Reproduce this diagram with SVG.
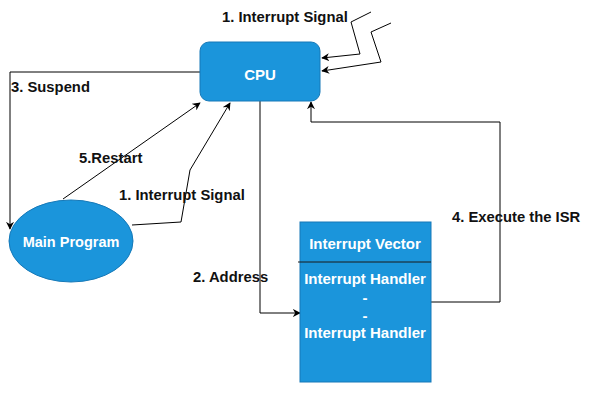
<svg xmlns="http://www.w3.org/2000/svg" width="590" height="409" viewBox="0 0 590 409">
<style>
.node{fill:#1B95DB;stroke:#1679B8;stroke-width:1}
.wt{fill:#fff;font-family:"Liberation Sans",Arial,sans-serif;font-weight:bold;font-size:14px;text-anchor:middle}
.box{font-size:15px}
.lbl{fill:#111;font-family:"Liberation Sans",Arial,sans-serif;font-weight:bold;font-size:14.8px}
.ln{fill:none;stroke:#000;stroke-width:1}
</style>
<defs>
<marker id="ah" viewBox="0 0 10 10" refX="9" refY="5" markerWidth="8" markerHeight="8" markerUnits="userSpaceOnUse" orient="auto">
<path d="M0,0 L10,5 L0,10 L3,5 Z" fill="#000"/>
</marker>
</defs>
<rect width="590" height="409" fill="#fff"/>
<g id="connectors">
<polyline class="ln" points="371,12 351,22 360,54 322,58" marker-end="url(#ah)"/>
<polyline class="ln" points="391,23 371,32 381,62 322,71" marker-end="url(#ah)"/>
<polyline class="ln" points="200,72 10,72 10,229" marker-end="url(#ah)"/>
<polyline class="ln" points="63,199 200,103" marker-end="url(#ah)"/>
<polyline class="ln" points="132,225 181,222 190,170 230,103" marker-end="url(#ah)"/>
<polyline class="ln" points="260,101 260,313 300,313" marker-end="url(#ah)"/>
<polyline class="ln" points="431,302 500,302 500,122 311,122 311,102" marker-end="url(#ah)"/>
</g>
<g id="cpu">
<rect class="node" x="200" y="42" width="120" height="59" rx="9"/>
<text class="wt box" x="260" y="80">CPU</text>
</g>
<g id="main-program">
<ellipse class="node" cx="71" cy="241" rx="62" ry="41"/>
<text class="wt" x="71" y="247" style="font-size:14.5px">Main Program</text>
</g>
<g id="interrupt-vector">
<rect class="node" x="300" y="222" width="131" height="160"/>
<line x1="298" y1="262" x2="431" y2="262" stroke="#1a1a1a" stroke-width="1"/>
<text class="wt box" x="365" y="249">Interrupt Vector</text>
<text class="wt box" x="365" y="284">Interrupt Handler</text>
<text class="wt box" x="365" y="303">-</text>
<text class="wt box" x="365" y="321">-</text>
<text class="wt box" x="365" y="338">Interrupt Handler</text>
</g>
<g id="labels">
<text class="lbl" x="222" y="22">1. Interrupt Signal</text>
<text class="lbl" x="11" y="92">3. Suspend</text>
<text class="lbl" x="79" y="163">5.Restart</text>
<text class="lbl" x="119" y="200">1. Interrupt Signal</text>
<text class="lbl" x="193" y="282">2. Address</text>
<text class="lbl" x="452" y="222">4. Execute the ISR</text>
</g>
</svg>
